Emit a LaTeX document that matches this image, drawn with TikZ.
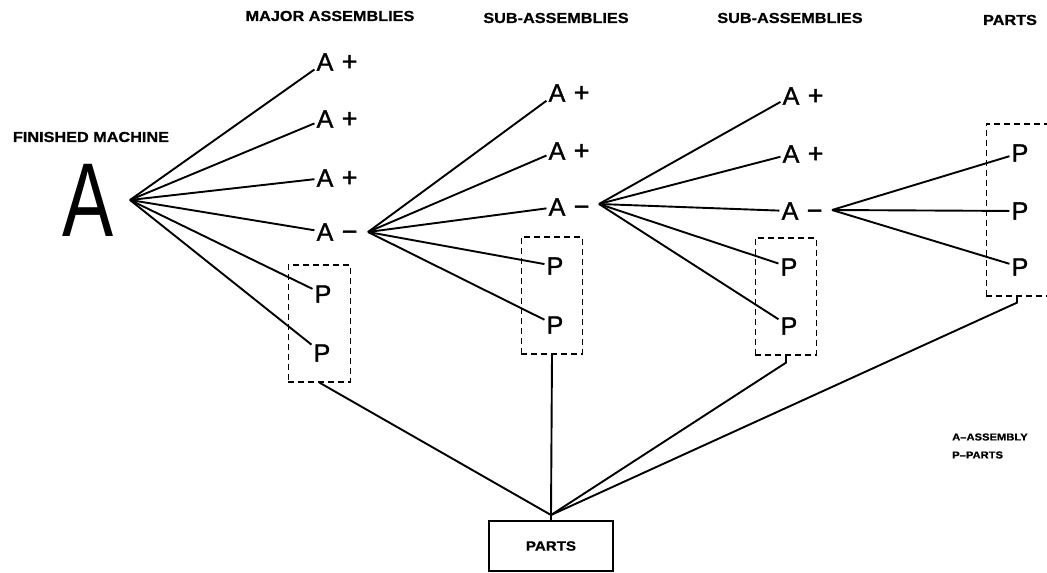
\documentclass[tikz,border=0pt]{standalone}
\usepackage{fontspec}
\setsansfont{Liberation Sans}
\newfontfamily\capsfont{Liberation Sans}[FakeStretch=1.12, FakeBold=0.8]
\newfontfamily\letterfont{Liberation Sans}[FakeBold=1.2]
\newfontfamily\tallfont{Liberation Sans}[FakeStretch=0.73]
\usetikzlibrary{fit}
\tikzset{
  item/.style={draw=none, inner sep=2pt, font=\letterfont\fontsize{25}{25}\selectfont},
  sign/.style={draw=none, inner sep=0pt, anchor=base west, font=\letterfont\fontsize{27}{27}\selectfont},
  heading/.style={draw=none, inner sep=0pt, font=\capsfont\bfseries\fontsize{14.5}{14.5}\selectfont},
  legend/.style={draw=none, inner sep=0pt, anchor=west, font=\capsfont\bfseries\fontsize{10}{11}\selectfont},
  group/.style={draw, dash pattern=on 6pt off 4pt, line width=1.7pt, inner xsep=20pt, inner ysep=18pt, xshift=-3pt},
  link/.style={black, line width=1.9pt}
}

\begin{document}
\begin{tikzpicture}[x=1pt, y=-1pt]
\useasboundingbox (0,0) rectangle (1047,573);

% headings
\node[heading] (hmachine) at (91,137) {FINISHED MACHINE};
\node[heading] (hmajor) at (330,16) {MAJOR ASSEMBLIES};
\node[heading] (hsuba) at (556,18) {SUB-ASSEMBLIES};
\node[heading] (hsubb) at (790,18) {SUB-ASSEMBLIES};
\node[heading] (hparts) at (1010,20) {PARTS};

% finished machine
\node[draw=none, inner sep=0pt, font=\tallfont\fontsize{105}{105}\selectfont] (machine) at (88,200) {A};
\coordinate (f0) at (130,200);

% major assemblies
\node[item] (maj1) at (325,62) {A};
\node[item] (maj2) at (325,119) {A};
\node[item] (maj3) at (325,178) {A};
\node[item] (maj4) at (325,232) {A};
\node[item] (majp1) at (323,294) {P};
\node[item] (majp2) at (322,353) {P};
\node[sign] (majs1) at ([xshift=6pt]maj1.base east) {+};
\node[sign] (majs2) at ([xshift=6pt]maj2.base east) {+};
\node[sign] (majs3) at ([xshift=6pt]maj3.base east) {+};
\node[sign] (majs4) at ([xshift=6pt]maj4.base east) {−};
\node[group, fit=(majp1)(majp2)] (boxmaj) {};
\coordinate (f1) at (368,232);

% first sub-assemblies
\node[item] (sa1) at (557,93) {A};
\node[item] (sa2) at (557,151) {A};
\node[item] (sa3) at (557,207) {A};
\node[item] (sap1) at (555,266) {P};
\node[item] (sap2) at (555,325) {P};
\node[sign] (sas1) at ([xshift=6pt]sa1.base east) {+};
\node[sign] (sas2) at ([xshift=6pt]sa2.base east) {+};
\node[sign] (sas3) at ([xshift=6pt]sa3.base east) {−};
\node[group, fit=(sap1)(sap2)] (boxsa) {};
\coordinate (f2) at (599,204);

% second sub-assemblies
\node[item] (sb1) at (791,96) {A};
\node[item] (sb2) at (791,154) {A};
\node[item] (sb3) at (790,211) {A};
\node[item] (sbp1) at (789,267) {P};
\node[item] (sbp2) at (789,326) {P};
\node[sign] (sbs1) at ([xshift=6pt]sb1.base east) {+};
\node[sign] (sbs2) at ([xshift=6pt]sb2.base east) {+};
\node[sign] (sbs3) at ([xshift=6pt]sb3.base east) {−};
\node[group, fit=(sbp1)(sbp2)] (boxsb) {};
\coordinate (f3) at (832,210);

% parts
\node[item] (pp1) at (1020,153) {P};
\node[item] (pp2) at (1020,211) {P};
\node[item] (pp3) at (1020,267) {P};
\node[group, fit=(pp1)(pp3)] (boxpp) {};

% fans
\foreach \n in {maj1,maj2,maj3,maj4,majp1,majp2} \draw[link] (f0) -- (\n);
\foreach \n in {sa1,sa2,sa3,sap1,sap2} \draw[link] (f1) -- (\n);
\foreach \n in {sb1,sb2,sb3,sbp1,sbp2} \draw[link] (f2) -- (\n);
\foreach \n in {pp1,pp2,pp3} \draw[link] (f3) -- (\n);

% all parts go to stock
\node[draw, line width=1.6pt, minimum width=124pt, minimum height=50pt, font=\capsfont\bfseries\fontsize{13.5}{13.5}\selectfont] (parts) at (551,546) {PARTS};
\coordinate (hub) at (551,515);
\draw[link] (boxmaj.south) -- (hub);
\draw[link] (boxsa.south) -- (hub);
\draw[link] (boxsb.south) -- ++(0,7) -- (hub);
\draw[link] (boxpp.south) -- ++(0,6) -- (hub);
\draw[link] (hub) -- (parts.north);

% legend
\node[legend] (lega) at (952,437) {A–ASSEMBLY};
\node[legend] (legp) at (952,455) {P–PARTS};
\end{tikzpicture}
\end{document}
